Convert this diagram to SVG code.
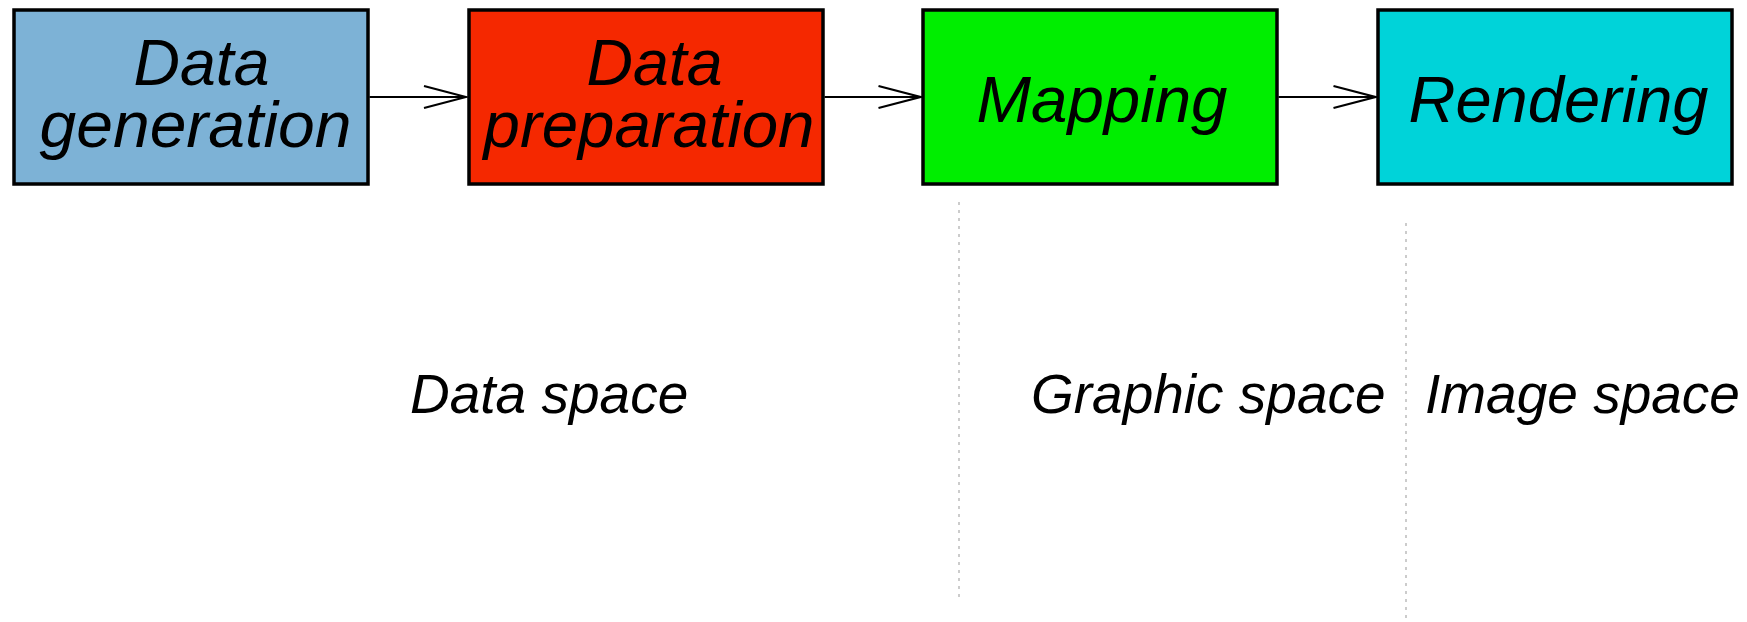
<svg xmlns="http://www.w3.org/2000/svg" width="1747" height="622" viewBox="0 0 1747 622">
<defs>
<style>
.box{stroke:#000;stroke-width:3.5}
.lbl{font-family:"Liberation Sans",Arial,sans-serif;font-style:italic;font-size:64px;fill:#000}
.space{font-family:"Liberation Sans",Arial,sans-serif;font-style:italic;font-size:55px;fill:#000}
.conn{stroke:#000;stroke-width:2;fill:none}
.div{stroke:#999;stroke-width:1;stroke-dasharray:3,5;fill:none}
</style>
<marker id="arr" markerUnits="userSpaceOnUse" markerWidth="46" markerHeight="28" refX="43" refY="13" orient="auto">
<path d="M1,2 L43,13 L1,24" fill="none" stroke="#000" stroke-width="2.2"/>
</marker>
</defs>
<rect width="1747" height="622" fill="#fff"/>
<g id="connectors">
<line class="conn" x1="369.5" y1="97" x2="466" y2="97" marker-end="url(#arr)"/>
<line class="conn" x1="824.5" y1="97" x2="920.5" y2="97" marker-end="url(#arr)"/>
<line class="conn" x1="1278.5" y1="97" x2="1375.5" y2="97" marker-end="url(#arr)"/>
</g>
<g id="data-generation">
<rect class="box" x="14" y="10" width="354" height="174" fill="#7db2d6"/>
<text class="lbl" x="133.5" y="84.5" textLength="136" lengthAdjust="spacingAndGlyphs">Data</text>
<text class="lbl" x="39.5" y="146.5" textLength="312" lengthAdjust="spacingAndGlyphs">generation</text>
</g>
<g id="data-preparation">
<rect class="box" x="469" y="10" width="354" height="174" fill="#f52800"/>
<text class="lbl" x="586.5" y="84.5" textLength="136" lengthAdjust="spacingAndGlyphs">Data</text>
<text class="lbl" x="483.5" y="146.5" textLength="331" lengthAdjust="spacingAndGlyphs">preparation</text>
</g>
<g id="mapping">
<rect class="box" x="923" y="10" width="354" height="174" fill="#00ee00"/>
<text class="lbl" x="976.5" y="122" textLength="251" lengthAdjust="spacingAndGlyphs">Mapping</text>
</g>
<g id="rendering">
<rect class="box" x="1378" y="10" width="354" height="174" fill="#00d3d9"/>
<text class="lbl" x="1408.5" y="122" textLength="300" lengthAdjust="spacingAndGlyphs">Rendering</text>
</g>
<g id="dividers">
<line class="div" x1="959" y1="202" x2="959" y2="602"/>
<line class="div" x1="1406" y1="223" x2="1406" y2="622"/>
</g>
<g id="space-labels">
<text class="space" x="410" y="413">Data space</text>
<text class="space" x="1031" y="413">Graphic space</text>
<text class="space" x="1425" y="413">Image space</text>
</g>
</svg>
